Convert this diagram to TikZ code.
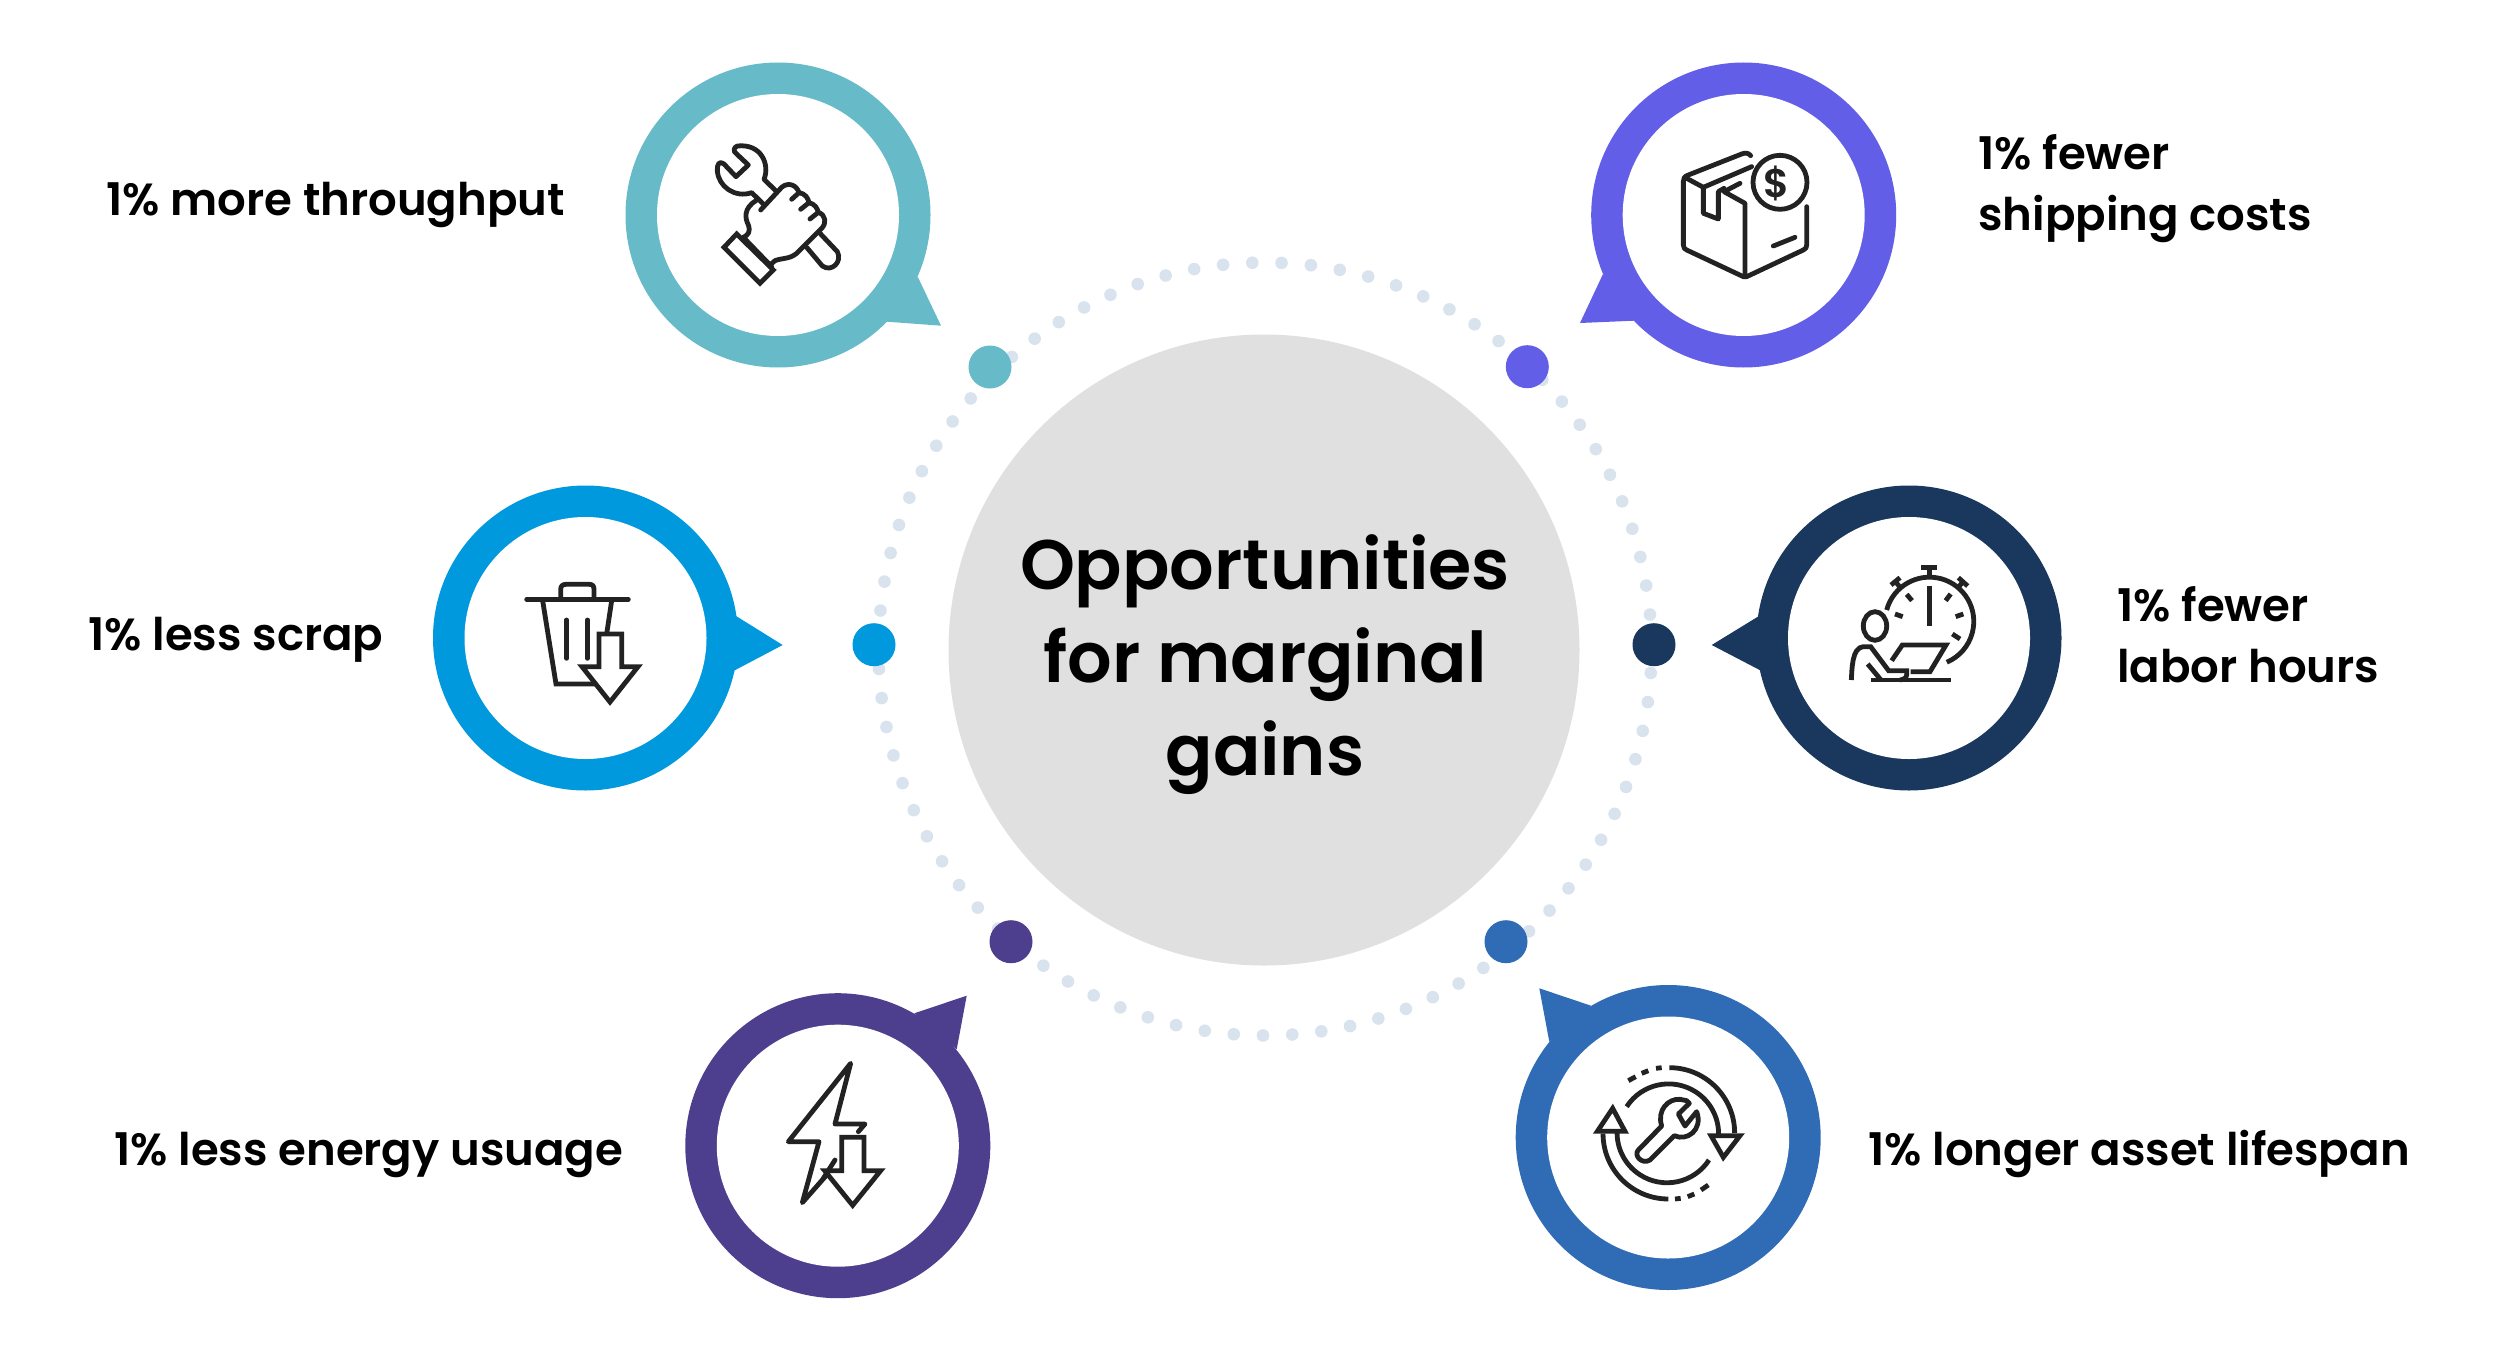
\documentclass[tikz,border=0pt]{standalone}
\usepackage{fontspec}
\setmainfont{Poppins}[UprightFont=* SemiBold,BoldFont=* SemiBold]
\definecolor{teal}{HTML}{67BBC9}
\definecolor{purp}{HTML}{635EE8}
\definecolor{skyb}{HTML}{0099DD}
\definecolor{navy}{HTML}{1A375E}
\definecolor{viol}{HTML}{4E3F8E}
\definecolor{steel}{HTML}{306BB5}
\definecolor{dotc}{HTML}{D9E3EE}
\definecolor{hubc}{HTML}{E0E0E0}
\definecolor{ink}{HTML}{222222}
\tikzset{
  iconline/.style={draw=ink,line width=4.8pt,line join=round,line cap=round},
  iconsharp/.style={draw=ink,line width=4.8pt,line join=miter,line cap=butt},
  lab/.style={font=\fontsize{45}{61}\selectfont,text=black,inner sep=0pt,anchor=west,align=left},
  hubtext/.style={font=\fontsize{70}{93}\selectfont,text=black,inner sep=0pt,align=center},
  zoomed/.style={x=0.33333pt,y=-0.33333pt}
}
\newcommand{\ring}[8]{% name colour cx cy tip base1 base2 dot
  \fill[#2] #5 -- #6 -- #7 -- cycle;
  \node[circle,fill=#2,minimum size=305pt,inner sep=0pt] (#1) at (#3,#4) {};
  \node[circle,fill=white,minimum size=242pt,inner sep=0pt] (#1in) at (#3,#4) {};
  \node[circle,fill=#2,minimum size=43pt,inner sep=0pt] (#1dot) at #8 {};
}
\begin{document}
\begin{tikzpicture}[x=1pt,y=-1pt]
\useasboundingbox (0,0) rectangle (2501,1370);
\fill[white] (0,0) rectangle (2501,1370);
% dotted orbit
\foreach \i in {0,...,82}{
  \fill[dotc] ({1265+386.5*cos(87.55+\i*4.337)},{649-386.5*sin(87.55+\i*4.337)}) circle[radius=6.3pt];
}
\node[circle,fill=hubc,minimum size=631pt,inner sep=0pt] (hub) at (1264,650) {};
\node[hubtext] (hubt) at (1265,665) {Opportunities\\for marginal\\gains};
% rings
\ring{a}{teal}{778}{215}{(941,325.7)}{(917.7,276.7)}{(886.7,321.7)}{(990,367)}
\ring{b}{purp}{1743.7}{215}{(1580,323)}{(1603,274)}{(1634,320.7)}{(1527.3,366.7)}
\ring{c}{skyb}{585.5}{638}{(782.7,645)}{(736,616)}{(734,670.7)}{(874,644.7)}
\ring{d}{navy}{1909}{638}{(1711.7,645)}{(1759,616)}{(1761,670.7)}{(1654,644.7)}
\ring{e}{viol}{837.8}{1145.7}{(966.7,995.7)}{(914.3,1013.3)}{(956.7,1049.3)}{(1011,941.7)}
\ring{f}{steel}{1668.2}{1137.5}{(1539.3,988.3)}{(1591,1005.7)}{(1549.3,1041.7)}{(1506,941.7)}
% labels
\node[lab] (la) at (106,205) {1\% more throughput};
\node[lab] (lb) at (1978,189) {1\% fewer\\shipping costs};
\node[lab] (lc) at (88,640) {1\% less scrap};
\node[lab] (ld) at (2117,635) {1\% fewer\\labor hours};
\node[lab] (le) at (114,1155) {1\% less energy usuage};
\node[lab] (lf) at (1868,1154) {1\% longer asset lifespan};
% icon: hand with wrench
\begin{scope}[shift={(620,50)},zoomed]
\draw[iconline] (465,420) -- (432,388) .. controls (450,345) and (425,280) .. (352,288) .. controls (340,292) and (340,305) .. (348,310) -- (385,345) -- (348,380) -- (312,342) .. controls (298,330) and (290,345) .. (292,362) .. controls (295,410) and (345,445) .. (395,428) -- (430,462);
\draw[iconline] (600,550) -- (652,605) .. controls (668,635) and (635,668) .. (607,648) -- (560,592);
\draw[iconline] (422,480) -- (485,412) .. controls (505,395) and (530,405) .. (537,428) -- (515,448);
\draw[iconline] (537,428) .. controls (555,430) and (565,445) .. (567,458) -- (542,478);
\draw[iconline] (567,458) .. controls (585,462) and (592,475) .. (595,487) -- (570,507);
\draw[iconline] (595,487) .. controls (618,495) and (620,520) .. (605,535) -- (540,600) .. controls (515,630) and (490,622) .. (465,632) -- (450,645);
\draw[iconline] (408,452) .. controls (370,475) and (375,505) .. (385,525) .. controls (392,545) and (385,555) .. (370,562) -- (455,650);
\draw[iconsharp] (350,552) -- (460,660) -- (420,700) -- (312,592) -- cycle;
\end{scope}
% icon: box with coin
\begin{scope}[shift={(1580,50)},zoomed]
\draw[iconline] (512,317) .. controls (505,308) and (495,308) .. (485,312) -- (325,375) .. controls (312,380) and (310,385) .. (310,395) -- (310,585) .. controls (310,595) and (315,597) .. (320,600) -- (490,680) -- (500,680) -- (670,600) .. controls (678,596) and (680,592) .. (680,585) -- (680,470);
\draw[iconline] (495,680) -- (495,460) -- (432,425) -- (480,400);
\draw[iconline] (320,385) -- (370,412) -- (370,490) -- (415,507) -- (415,425) -- (432,415);
\draw[iconline] (370,412) -- (515,350);
\draw[iconline] (580,588) -- (645,562);
\draw[iconline,fill=white] (600,397) circle[radius=27pt];
\node[inner sep=0pt,text=ink,font=\fontsize{40}{40}\selectfont] (dollar) at (591,399) {\$};
\end{scope}
% icon: bin with arrow
\begin{scope}[shift={(430,480)},zoomed]
\draw[iconline] (290,358) -- (595,358);
\draw[iconline] (392,352) -- (392,328) .. controls (392,318) and (398,313) .. (408,313) -- (478,313) .. controls (488,313) and (492,318) .. (492,328) -- (492,352);
\draw[iconsharp] (338,362) -- (378,612) -- (500,612);
\draw[iconsharp] (545,362) -- (530,462);
\draw[iconline] (410,420) -- (410,535);
\draw[iconline] (472,420) -- (472,535);
\draw[iconsharp,fill=white] (507,462) -- (575,462) -- (575,560) -- (624,560) -- (540,666) -- (456,560) -- (507,560) -- cycle;
\end{scope}
% icon: person and stopwatch
\begin{scope}[shift={(1700,480)},zoomed]
\draw[iconsharp] (560,390) arc[start angle=165,end angle=-67,radius=44.3pt];
\draw[iconsharp] (688,262) -- (688,292);
\draw[iconsharp] (663,262) -- (712,262);
\draw[iconsharp] (573,315) -- (600,293);
\draw[iconsharp] (586,304) -- (600,322);
\draw[iconsharp] (775,293) -- (803,318);
\draw[iconsharp] (789,305) -- (775,322);
\draw[iconsharp] (688,318) -- (688,438);
\draw[iconsharp] (620,343) -- (636,362);
\draw[iconsharp] (752,342) -- (737,362);
\draw[iconsharp] (585,402) -- (608,410);
\draw[iconsharp] (790,402) -- (767,410);
\draw[iconsharp] (757,462) -- (780,477);
\draw[iconsharp] (525,438) ellipse[x radius=11.7pt,y radius=14.3pt];
\draw[iconsharp] (454,600) .. controls (456,570) and (455,502) .. (490,500) -- (512,500) -- (566,572) -- (620,572) -- (620,585) .. controls (618,595) and (612,598) .. (600,600);
\draw[iconsharp] (503,552) -- (543,600);
\draw[iconsharp] (575,542) -- (607,495) -- (738,495) -- (690,575) -- (632,575);
\draw[iconsharp] (512,600) -- (752,600);
\end{scope}
% icon: bolt with arrow
\begin{scope}[shift={(680,980)},zoomed]
\draw[iconline] (465,540) -- (430,595);
\draw[iconline] (440,585) -- (367,668) -- (417,485) -- (325,485) -- (512,250) -- (465,432) -- (555,432) -- (535,455);
\draw[iconsharp,fill=white] (485,472) -- (552,472) -- (552,572) -- (602,572) -- (518,676) -- (434,572) -- (485,572) -- cycle;
\end{scope}
% icon: wrench with cycle arrows
\begin{scope}[shift={(1510,970)},zoomed]
\draw[iconsharp] (478,293) arc[start angle=90,end angle=0,radius=65.3pt];
\draw[iconsharp] (438,295) -- (455,293);
\draw[iconsharp] (395,310) -- (415,302);
\draw[iconsharp] (355,332) -- (377,320);
\draw[iconsharp] (350,410) arc[start angle=147,end angle=0,radius=50pt];
\draw[iconsharp,fill=white] (603,497) -- (690,497) -- (640,562) -- cycle;
\draw[iconsharp] (475,687) arc[start angle=270,end angle=180,radius=65.3pt];
\draw[iconsharp] (495,687) -- (512,685);
\draw[iconsharp] (533,680) -- (553,672);
\draw[iconsharp] (573,660) -- (595,645);
\draw[iconsharp] (597,570) arc[start angle=-33,end angle=-180,radius=50pt];
\draw[iconsharp,fill=white] (262,484) -- (308,415) -- (345,484) -- cycle;
\draw[iconline] (455,468) .. controls (440,420) and (475,385) .. (510,388) -- (530,392) -- (538,400) -- (505,432) -- (525,468) -- (560,425) .. controls (580,480) and (530,515) .. (493,497) -- (420,570) .. controls (395,585) and (370,555) .. (385,540) -- cycle;
\end{scope}
\end{tikzpicture}
\end{document}
